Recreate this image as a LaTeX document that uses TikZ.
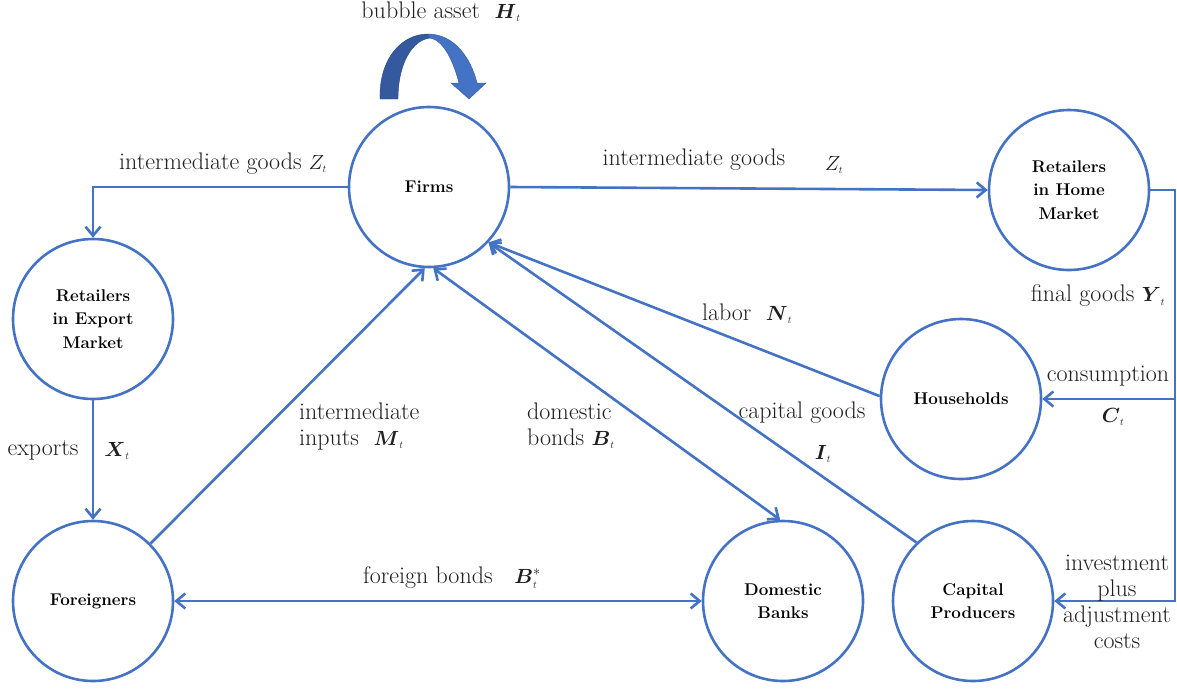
\RequirePackage{fix-cm}
\documentclass[tikz,border=0pt]{standalone}
\usepackage{amsmath}
\usetikzlibrary{arrows.meta}
\definecolor{ob}{HTML}{4472C4}
\definecolor{obdark}{HTML}{34599E}
\newcommand{\lbl}{\fontsize{24}{26}\selectfont}
\newcommand{\mth}[1]{{\fontsize{20.5}{24}\selectfont$#1$}}
\newcommand{\bv}[1]{\boldsymbol{#1}_{\scriptscriptstyle t}}
\tikzset{
  agent/.style={circle,draw=ob,line width=2.6pt,minimum size=160pt,inner sep=0pt,
    align=center,font=\fontsize{17}{23.5}\selectfont\bfseries,text=black},
  flow/.style={draw=ob,line width=2.6pt,-{Straight Barb[length=9pt,width=15pt]}},
  flowtwo/.style={draw=ob,line width=2.6pt,{Straight Barb[length=9pt,width=15pt]}-{Straight Barb[length=9pt,width=15pt]}},
  txt/.style={inner sep=0pt,font=\lbl,text=black!88}
}
\begin{document}
\begin{tikzpicture}[x=1pt,y=-1pt]
\useasboundingbox (0,0) rectangle (1177,689);
% agents
\node[agent] (firms) at (429,187) {Firms};
\node[agent] (home) at (1069,190) {Retailers\\in Home\\Market};
\node[agent] (export) at (93,319) {Retailers\\in Export\\Market};
\node[agent] (hh) at (961,399) {Households};
\node[agent] (foreign) at (93,601) {Foreigners};
\node[agent] (banks) at (783,601) {Domestic\\Banks};
\node[agent] (cp) at (973,601) {Capital\\Producers};
% coordinates on the right
\coordinate (rt) at (1175,190);
\coordinate (rm) at (1175,399);
\coordinate (rb) at (1175,601);
% connectors
\draw[flow] (firms.east) -- (home.west);
\draw[flow] (firms.west) -| (export.north);
\draw[flow] (home.east) -- (rt) -- (rb) -- (cp.east);
\draw[flow] (rm) -- (hh.east);
\draw[flow] (export.south) -- (foreign.north);
\draw[flowtwo] (foreign.east) -- (banks.west);
\draw[flow] (foreign.45) -- (firms.-93);
\draw[flowtwo] (firms.-87) -- (banks.92);
\draw[flow] (hh.178) -- (firms.-43);
\draw[flow] (cp.134) -- (firms.-43);
% bubble asset curved arrow
\fill[obdark,draw=obdark!80!black,line width=0.4pt]
  (380,99) .. controls (379,58) and (402,34) .. (428,34)
  -- (430,38) .. controls (412,40) and (398,64) .. (398,99) -- cycle;
\fill[ob,draw=obdark,line width=0.4pt]
  (428,34) .. controls (454,34) and (471,58) .. (477,83)
  -- (486,83) -- (469,99) -- (451,83) -- (459,83)
  .. controls (453,60) and (443,40) .. (430,38) -- cycle;
% labels
\node[txt] (tbub) at (441,12) {bubble asset\ \ \mth{\bv{H}}};
\node[txt] (tzl) at (223,164) {intermediate goods \mth{Z_{\scriptscriptstyle t}}};
\node[txt] (tzr) at (694,160) {intermediate goods};
\node[txt] (tzr2) at (834,165) {\mth{Z_{\scriptscriptstyle t}}};
\node[txt] (ty) at (1098,296) {final goods \mth{\bv{Y}}};
\node[txt] (tc) at (1108,376) {consumption};
\node[txt] (tc2) at (1113,417) {\mth{\bv{C}}};
\node[txt] (tn) at (747,314) {labor\ \ \mth{\bv{N}}};
\node[txt] (ti) at (802,413) {capital goods};
\node[txt] (ti2) at (823,454) {\mth{\bv{I}}};
\node[txt,align=left,anchor=north west] (tm) at (299,403) {intermediate\\inputs\ \ \mth{\bv{M}}};
\node[txt,align=left,anchor=north west] (tb) at (527,403) {domestic\\bonds\ \mth{\bv{B}}};
\node[txt] (tx) at (43,450) {exports};
\node[txt] (tx2) at (117,451) {\mth{\bv{X}}};
\node[txt] (tfb) at (452,578) {foreign bonds\ \ \ \mth{\boldsymbol{B}^{*}_{\scriptscriptstyle t}}};
\node[txt,align=center] (tinv) at (1117,602) {investment\\plus\\adjustment\\costs};
\end{tikzpicture}
\end{document}
